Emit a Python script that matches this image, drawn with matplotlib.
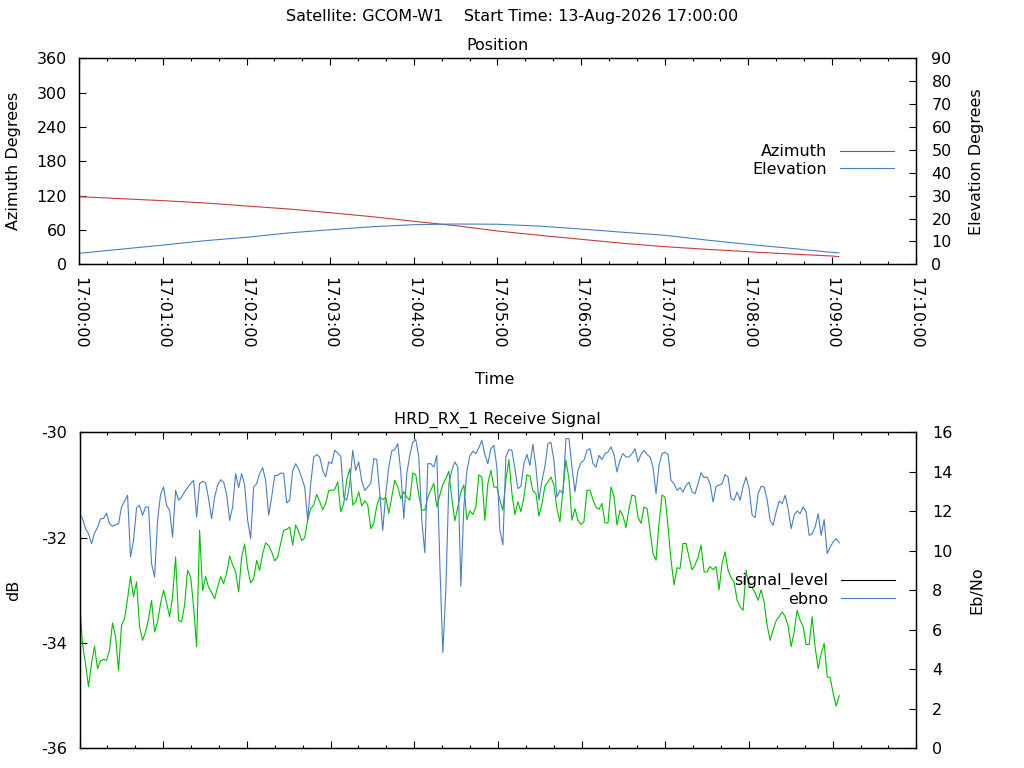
import numpy as np
import matplotlib
matplotlib.use("Agg")
import matplotlib.pyplot as plt
from matplotlib.ticker import MultipleLocator, FuncFormatter, NullFormatter
from matplotlib.lines import Line2D

plt.rcParams['font.family'] = ['DejaVu Sans']
plt.rcParams['axes.unicode_minus'] = False
plt.rcParams['font.size'] = 11.5

# ---------------- data ----------------
SATELLITE = "GCOM-W1"
START_TIME = "13-Aug-2026 17:00:00"
START_H, START_M = 17, 0

# Position (seconds after start)
pos_t = [0, 30, 60, 90, 120, 150, 180, 210, 240, 270, 300, 330, 360, 390, 420, 450, 480, 510, 540, 545]
azimuth = [118.2, 114.7, 111.2, 107.2, 101.9, 96.7, 90.2, 83.2, 75.2, 67.5, 58.2, 50.7, 43.7, 36.7,
           30.8, 26.2, 22.0, 18.0, 14.5, 13.3]
elevation = [4.8, 6.6, 8.4, 10.3, 11.8, 13.7, 15.1, 16.4, 17.3, 17.6, 17.5, 16.7, 15.4, 14.0,
             12.7, 10.6, 8.7, 7.0, 5.2, 5.0]

# Receive signal, one sample every SAMPLE_INTERVAL seconds from start
SAMPLE_INTERVAL = 2.153
signal_level = [
    -33.20, -34.01, -34.39, -34.83, -34.39, -34.06, -34.49, -34.34, -34.31, -34.33,
    -34.14, -33.62, -33.88, -34.52, -33.66, -33.54, -33.16, -32.74, -33.12, -32.84,
    -33.69, -33.95, -33.79, -33.54, -33.19, -33.79, -33.60, -33.25, -33.00, -33.24,
    -33.50, -33.12, -32.37, -33.57, -33.60, -33.28, -32.62, -32.74, -33.31, -34.07,
    -31.86, -33.01, -32.74, -32.94, -33.04, -33.16, -32.94, -32.74, -32.87, -32.68,
    -32.35, -32.52, -32.65, -33.03, -32.37, -32.12, -32.59, -32.86, -32.78, -32.43,
    -32.62, -32.30, -32.10, -32.15, -32.27,
    -32.44, -32.37, -32.11, -31.86, -31.84, -31.80, -32.14, -31.76, -31.89, -32.06,
    -32.00, -31.67, -31.45, -31.38, -31.18, -31.32, -31.47, -31.35, -31.11, -31.10,
    -31.09, -30.94, -31.51, -31.35, -30.90, -30.69, -31.38, -31.32, -31.13, -31.40,
    -31.30, -31.38, -31.83, -31.73, -31.40, -31.23, -31.28, -31.23, -31.54, -31.23,
    -30.91, -31.04, -31.26, -31.13, -31.23, -31.29, -30.77, -30.81, -31.19, -31.48,
    -31.48, -31.23, -31.10, -30.97, -31.42, -31.19, -30.99, -30.88, -30.74, -31.26,
    -31.68, -31.42, -31.13,
    -31.00, -31.66, -31.49, -31.56, -31.42, -30.81, -30.85, -31.67, -30.97, -30.72,
    -31.04, -31.04, -31.29, -31.48, -30.91, -30.52, -31.16, -31.56, -31.32, -31.51,
    -31.23, -30.81, -30.83, -31.11, -31.16, -31.59, -31.37, -31.02, -30.94, -30.85,
    -31.00, -31.45, -31.70, -31.10, -30.53, -30.88, -31.67, -31.45, -31.67, -31.75,
    -31.70, -31.10, -31.10, -31.28, -31.42, -31.46, -31.35, -31.72, -31.72, -31.04,
    -31.21, -31.76, -31.48, -31.59, -31.81, -31.45, -31.19, -31.21, -31.61, -31.73,
    -31.42, -31.45, -31.86, -32.30,
    -32.43, -31.73, -31.19, -31.23, -31.80, -32.43, -32.90, -32.57, -32.59, -32.11,
    -32.11, -32.37, -32.61, -32.52, -32.37, -32.14, -32.65, -32.65, -32.55, -32.61,
    -32.55, -32.99, -32.49, -32.27, -32.62, -32.76, -32.84, -33.19, -33.31, -33.38,
    -32.62, -32.94, -32.95, -33.05, -33.19, -32.99, -33.22, -33.66, -33.95, -33.75,
    -33.58, -33.50, -33.41, -33.50, -33.68, -34.07, -33.79, -33.38, -33.57, -33.69,
    -34.03, -34.03, -33.50, -34.09, -34.49, -34.20, -34.01, -34.64, -34.66, -34.96,
    -35.20, -35.00,
]
ebno = [
    11.88, 11.63, 11.12, 10.87, 10.36, 10.90, 11.17, 11.63, 11.63, 11.91,
    11.37, 11.24, 11.32, 11.37, 12.22, 12.51, 12.81, 9.69, 10.53, 12.18,
    12.30, 11.80, 12.22, 12.22, 9.35, 8.67, 11.54, 12.86, 13.23, 12.30,
    12.05, 10.70, 13.06, 12.56, 12.72, 12.99, 13.20, 13.40, 13.57, 11.71,
    13.40, 13.52, 13.43, 12.64, 11.63, 12.72, 13.32, 13.60, 13.48, 12.86,
    11.54, 12.22, 13.91, 13.20, 13.91, 13.32, 11.54, 10.62, 13.23, 13.40,
    13.91, 14.21, 13.57, 11.80, 12.72,
    13.82, 13.82, 13.94, 13.91, 12.42, 12.56, 14.07, 14.41, 14.13, 13.70,
    13.23, 11.54, 13.40, 14.75, 14.87, 14.75, 14.07, 13.74, 14.50, 14.41,
    15.09, 14.95, 14.78, 12.72, 12.56, 13.40, 15.09, 14.07, 14.50, 13.53,
    13.06, 13.23, 13.43, 14.67, 14.62, 12.89, 11.04, 12.89, 14.24, 15.05,
    15.12, 15.43, 13.99, 11.63, 13.91, 14.83, 15.51, 15.63, 14.75, 11.54,
    9.90, 14.41, 14.41, 14.24, 14.83, 9.35, 4.85, 8.00, 13.40, 14.07,
    14.50, 14.24, 8.20,
    12.22, 14.04, 14.80, 15.04, 14.92, 15.22, 15.59, 14.87, 14.41, 15.17,
    15.34, 14.24, 11.04, 10.30, 14.75, 15.12, 15.09, 14.16, 13.15, 13.26,
    14.41, 14.88, 14.33, 15.39, 14.24, 12.56, 13.53, 14.28, 15.43, 15.49,
    14.58, 12.72, 13.06, 12.89, 15.68, 15.68, 14.24, 12.98, 14.07, 14.45,
    14.58, 15.09, 15.17, 14.41, 14.24, 14.83, 14.62, 14.92, 15.00, 15.26,
    14.88, 13.99, 14.58, 14.92, 14.75, 14.75, 14.92, 15.17, 14.50, 14.88,
    15.09, 14.88, 14.75, 14.24,
    12.89, 14.33, 14.92, 15.00, 14.88, 13.57, 13.40, 13.06, 13.20, 12.98,
    13.32, 13.48, 12.98, 12.89, 13.40, 13.96, 13.70, 13.74, 13.40, 12.47,
    13.26, 13.32, 13.40, 13.86, 13.74, 12.64, 12.56, 12.98, 12.56, 13.26,
    13.74, 13.15, 11.80, 11.68, 12.89, 13.26, 13.23, 12.59, 11.54, 11.29,
    11.97, 12.52, 12.39, 12.81, 12.13, 11.12, 11.80, 12.02, 11.88, 12.22,
    11.97, 10.78, 10.87, 11.21, 11.88, 10.78, 11.58, 9.86, 10.19, 10.45,
    10.62, 10.40,
]
sig_t = np.arange(len(signal_level)) * SAMPLE_INTERVAL

RED = "#c83c3c"
BLUE = "#4a7ec4"
GREEN = "#00c000"
LW = 0.8

# ---------------- layout ----------------
W, H = 1024, 768
fig = plt.figure(figsize=(W / 100, H / 100), dpi=100)


def rect(l, t, r, b):
    return [l / W, 1 - b / H, (r - l) / W, (b - t) / H]


def time_fmt(v, pos):
    s = int(round(v))
    m = START_M + s // 60
    return "%02d:%02d:%02d" % (START_H + m // 60, m % 60, s % 60)


def style_x(ax):
    ax.set_xlim(0, 600)
    ax.xaxis.set_major_locator(MultipleLocator(60))
    ax.xaxis.set_minor_locator(MultipleLocator(20))
    ax.tick_params(axis='x', which='both', direction='in', top=True, bottom=True, width=0.8)
    ax.tick_params(axis='x', which='major', length=5)
    ax.tick_params(axis='x', which='minor', length=2.5)


def style_spines(ax):
    for s in ax.spines.values():
        s.set_linewidth(0.9)


LEFT_LABEL_X = -0.0695
RIGHT_LABEL_X = 1.064

# ---- Position plot ----
ax1 = fig.add_axes(rect(79.3, 58.3, 915.5, 264.3))
ax1.plot(pos_t, azimuth, color=RED, lw=LW)
style_x(ax1)
ax1.xaxis.set_major_formatter(FuncFormatter(time_fmt))
ax1.tick_params(axis='x', which='major', labelrotation=-90, pad=9)
ax1.set_ylim(0, 360)
ax1.yaxis.set_major_locator(MultipleLocator(60))
ax1.tick_params(axis='y', direction='in', left=True, right=False, length=5, width=0.8, pad=9)
ax1.set_ylabel("Azimuth Degrees")
ax1.yaxis.set_label_coords(LEFT_LABEL_X, 0.5)
ax1.set_xlabel("Time")
ax1.xaxis.label.set_va('center')
ax1.xaxis.set_label_coords(0.497, (264.3 - 379) / 206.0)
style_spines(ax1)

ax2 = ax1.twinx()
ax2.plot(pos_t, elevation, color=BLUE, lw=LW)
ax2.set_ylim(0, 90)
ax2.yaxis.set_major_locator(MultipleLocator(10))
ax2.tick_params(axis='y', direction='in', left=False, right=True, length=5, width=0.8, pad=11.5)
ax2.set_ylabel("Elevation Degrees")
ax2.yaxis.set_label_coords(RIGHT_LABEL_X, 0.5)
style_spines(ax2)
h1 = [Line2D([], [], color=RED, lw=LW), Line2D([], [], color=BLUE, lw=LW)]
ax2.legend(h1, ["Azimuth", "Elevation"], loc='center right', bbox_to_anchor=(0.9745, 0.504),
           markerfirst=False, frameon=False, handlelength=3.4, handletextpad=0.8,
           labelspacing=0.15, borderpad=0, borderaxespad=0)

# ---- Receive signal plot ----
ax3 = fig.add_axes(rect(79.5, 432.3, 916.3, 748.3))
ax3.plot(sig_t, signal_level, color=GREEN, lw=LW)
style_x(ax3)
ax3.xaxis.set_major_formatter(NullFormatter())
ax3.set_ylim(-36, -30)
ax3.yaxis.set_major_locator(MultipleLocator(2))
ax3.tick_params(axis='y', direction='in', left=True, right=False, length=5, width=0.8, pad=9)
ax3.set_ylabel("dB")
ax3.yaxis.set_label_coords(LEFT_LABEL_X, 0.5)
style_spines(ax3)

ax4 = ax3.twinx()
ax4.plot(sig_t, ebno, color=BLUE, lw=LW)
ax4.set_ylim(0, 16)
ax4.yaxis.set_major_locator(MultipleLocator(2))
ax4.tick_params(axis='y', direction='in', left=False, right=True, length=5, width=0.8, pad=11.5)
ax4.set_ylabel("Eb/No")
ax4.yaxis.set_label_coords(RIGHT_LABEL_X, 0.5)
style_spines(ax4)
h2 = [Line2D([], [], color='black', lw=LW), Line2D([], [], color=BLUE, lw=LW)]
ax4.legend(h2, ["signal_level", "ebno"], loc='center right', bbox_to_anchor=(0.975, 0.501),
           markerfirst=False, frameon=False, handlelength=3.4, handletextpad=0.8,
           labelspacing=0.15, borderpad=0, borderaxespad=0)

# ---- titles ----
fig.text(0.5, 1 - 17 / H, "Satellite: %s    Start Time: %s" % (SATELLITE, START_TIME),
         ha='center', va='center')
fig.text(497 / W, 1 - 46 / H, "Position", ha='center', va='center')
fig.text(497 / W, 1 - 420 / H, "HRD_RX_1 Receive Signal", ha='center', va='center')

fig.savefig("out.png", dpi=100)
